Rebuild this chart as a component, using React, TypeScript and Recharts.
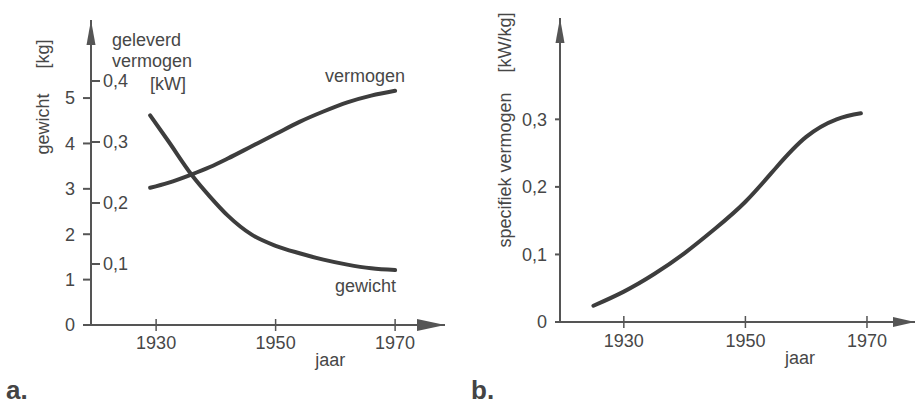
import { LineChart, Line, XAxis, YAxis } from "recharts";

// figuur a: gewicht en geleverd vermogen
const yearsA = [1929, 1932, 1936, 1939, 1942, 1946, 1950, 1954, 1958, 1962, 1966, 1970];
const gewicht = [4.62, 4.06, 3.3, 2.83, 2.41, 1.99, 1.745, 1.58, 1.44, 1.33, 1.25, 1.21];
const vermogen = [0.225, 0.233, 0.247, 0.259, 0.273, 0.293, 0.313, 0.333, 0.35, 0.365, 0.376, 0.384];

// figuur b: specifiek vermogen
const yearsB = [1925, 1930, 1935, 1940, 1945, 1950, 1955, 1960, 1965, 1969];
const specifiek = [0.024, 0.045, 0.071, 0.102, 0.138, 0.178, 0.228, 0.274, 0.3, 0.309];

const yearTicks = [1930, 1950, 1970];
const kgTicks = [0, 1, 2, 3, 4, 5];
const kwTicks = [0.1, 0.2, 0.3, 0.4];
const specTicks = [0, 0.1, 0.2, 0.3];

const dataA = yearsA.map((jaar, i) => ({ jaar, gewicht: gewicht[i], vermogen: vermogen[i] }));
const dataB = yearsB.map((jaar, i) => ({ jaar, specifiek: specifiek[i] }));

const FONT = "'Liberation Sans', Arial, sans-serif";
const TEXT = "#474747";
const AXIS = "#555";
const CURVE = "#3d3d3d";

const komma = (v: number) => (v === 0 ? "0" : v.toFixed(1).replace(".", ","));

const YearTick = (props: any) => {
  const { x, y, payload, dy } = props;
  return (
    <g>
      <line x1={x} x2={x} y1={y - 6} y2={y + 6} stroke={AXIS} strokeWidth={1.5} />
      <text x={x} y={y + (dy ?? 18)} textAnchor="middle" dominantBaseline="central" fontSize={18} fill={TEXT} fontFamily={FONT}>
        {payload.value}
      </text>
    </g>
  );
};

const xLabel = (tipLen: number, half: number, jaarDy: number) => (props: any) => {
  const { viewBox } = props;
  const { x, y, width } = viewBox;
  const tip = x + width;
  return (
    <g>
      <polygon points={`${tip},${y} ${tip - tipLen},${y - half} ${tip - tipLen},${y + half}`} fill={AXIS} />
      <text x={x + width * 0.676} y={y + jaarDy} textAnchor="middle" dominantBaseline="central" fontSize={18} fill={TEXT} fontFamily={FONT}>
        jaar
      </text>
    </g>
  );
};

const yLabel = (text: string, cx: number, cy: number) => (props: any) => {
  const { viewBox } = props;
  const { x, y, width } = viewBox;
  const ax = x + width;
  const lx = x + cx;
  return (
    <g>
      <polygon points={`${ax},${y} ${ax - 4.5},${y + 25} ${ax + 4.5},${y + 25}`} fill={AXIS} />
      <text
        x={lx}
        y={cy}
        transform={`rotate(-90 ${lx} ${cy})`}
        textAnchor="middle"
        dominantBaseline="central"
        fontSize={18}
        fill={TEXT}
        fontFamily={FONT}
      >
        {text}
      </text>
    </g>
  );
};

const kwLabel = (props: any) => {
  const { viewBox } = props;
  const x = viewBox.x;
  const t = { fontSize: 18, fill: TEXT, fontFamily: FONT, dominantBaseline: "central" as const };
  return (
    <g>
      <text x={x + 21} y={40} {...t}>geleverd</text>
      <text x={x + 21} y={61} {...t}>vermogen</text>
      <text x={x + 59} y={84} {...t}>[kW]</text>
    </g>
  );
};

const endLabel = (text: string, dx: number, dy: number, last: number) => (props: any) => {
  const { cx, cy, index } = props;
  if (index !== last) return <g key={`d${index}`} />;
  return (
    <text key={`d${index}`} x={cx + dx} y={cy + dy} textAnchor="end" dominantBaseline="central" fontSize={18} fill={TEXT} fontFamily={FONT}>
      {text}
    </text>
  );
};

const panelLetter = { position: "absolute" as const, top: 377, fontSize: 26, lineHeight: "26px", fontWeight: "bold" as const, color: "#444" };

export default function App() {
  return (
    <div style={{ position: "absolute", left: 0, top: 0, width: 915, height: 406, background: "#fff", fontFamily: FONT }}>
      <div style={{ position: "absolute", left: 0, top: 0 }}>
        <LineChart width={460} height={406} data={dataA} margin={{ top: 20, right: 15, bottom: 0, left: 0 }}>
          <XAxis
            dataKey="jaar"
            type="number"
            domain={[1919.1, 1978.35]}
            ticks={yearTicks}
            allowDataOverflow
            height={81}
            tickSize={0}
            tickMargin={0}
            tickLine={false}
            tick={<YearTick dy={18} />}
            stroke={AXIS}
            strokeWidth={2}
            label={{ content: xLabel(28, 6, 35) }}
          />
          <YAxis
            yAxisId="kg"
            type="number"
            domain={[0, 6.72]}
            ticks={kgTicks}
            allowDataOverflow
            width={91}
            tickSize={8}
            tickMargin={8}
            stroke={AXIS}
            strokeWidth={2}
            tick={{ fontSize: 18, fill: TEXT, fontFamily: FONT }}
            label={{ content: yLabel("gewicht\u00A0\u00A0\u00A0\u00A0\u00A0[kg]", 43, 97) }}
          />
          <YAxis
            yAxisId="kw"
            type="number"
            orientation="left"
            mirror
            domain={[0, 0.5]}
            ticks={kwTicks}
            allowDataOverflow
            width={1}
            tickSize={9}
            tickMargin={3}
            stroke={AXIS}
            strokeWidth={2}
            tickFormatter={komma}
            tick={{ fontSize: 18, fill: TEXT, fontFamily: FONT }}
            label={{ content: kwLabel }}
          />
          <Line
            yAxisId="kg"
            dataKey="gewicht"
            type="monotone"
            stroke={CURVE}
            strokeWidth={4}
            strokeLinecap="round"
            dot={endLabel("gewicht", 1, 16, yearsA.length - 1)}
            activeDot={false}
            isAnimationActive={false}
          />
          <Line
            yAxisId="kw"
            dataKey="vermogen"
            type="monotone"
            stroke={CURVE}
            strokeWidth={4}
            strokeLinecap="round"
            dot={endLabel("vermogen", 10, -15, yearsA.length - 1)}
            activeDot={false}
            isAnimationActive={false}
          />
        </LineChart>
      </div>
      <div style={{ position: "absolute", left: 460, top: 0 }}>
        <LineChart width={455} height={406} data={dataB} margin={{ top: 18, right: 0, bottom: 0, left: 0 }}>
          <XAxis
            dataKey="jaar"
            type="number"
            domain={[1919.5, 1977.9]}
            ticks={yearTicks}
            allowDataOverflow
            height={84}
            tickSize={0}
            tickMargin={0}
            tickLine={false}
            tick={<YearTick dy={19} />}
            stroke={AXIS}
            strokeWidth={2}
            label={{ content: xLabel(22, 5, 36) }}
          />
          <YAxis
            type="number"
            domain={[0, 0.45]}
            ticks={specTicks}
            allowDataOverflow
            width={100}
            tickSize={5}
            tickMargin={8}
            stroke={AXIS}
            strokeWidth={2}
            tickFormatter={komma}
            tick={{ fontSize: 18, fill: TEXT, fontFamily: FONT }}
            label={{ content: yLabel("specifiek vermogen\u00A0\u00A0\u00A0\u00A0[kW/kg]", 45, 130) }}
          />
          <Line
            dataKey="specifiek"
            type="natural"
            stroke={CURVE}
            strokeWidth={4}
            strokeLinecap="round"
            dot={false}
            activeDot={false}
            isAnimationActive={false}
          />
        </LineChart>
      </div>
      <div style={{ ...panelLetter, left: 6 }}>a.</div>
      <div style={{ ...panelLetter, left: 471 }}>b.</div>
    </div>
  );
}
